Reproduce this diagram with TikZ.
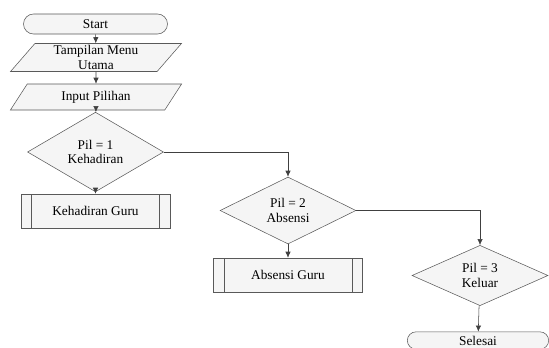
\documentclass[tikz,border=0pt]{standalone}
\usepackage{fontspec}
\setmainfont{Liberation Serif}
\usetikzlibrary{shapes.geometric,shapes.misc,arrows.meta}

\tikzset{
  flow/.style={draw=gray!70!black, fill=gray!8, align=center, inner sep=0pt,
    font=\fontsize{10}{11}\selectfont},
  terminal/.style={flow, rounded rectangle, minimum width=108pt, minimum height=15pt},
  io/.style={flow, trapezium, trapezium left angle=55, trapezium right angle=125,
    trapezium stretches=true, minimum width=129pt, minimum height=21pt},
  decision/.style={flow, diamond, minimum width=102pt, minimum height=42pt},
  process/.style={flow, rectangle, minimum width=112pt, minimum height=25.5pt,
    path picture={
      \draw[gray!70!black] ([xshift=8pt]path picture bounding box.north west)
        -- ([xshift=8pt]path picture bounding box.south west);
      \draw[gray!70!black] ([xshift=-8pt]path picture bounding box.north east)
        -- ([xshift=-8pt]path picture bounding box.south east);
    }},
  line/.style={draw=black!75, -{Latex[length=4.5pt,width=4pt]}}
}

\begin{document}
\begin{tikzpicture}[x=0.75pt, y=-0.75pt]

\clip (0,0) rectangle (549,347);

% menu utama
\path
(95.5,24)  node[terminal] (start) {Start}
(96,57.5)  node[io] (menu) {Tampilan Menu\\Utama}
(96,97)    node[io, minimum height=19.5pt] (input) {Input Pilihan};

% pilihan 1, 2, 3
\path
(95.5,152)  node[decision] (pil1) {Pil = 1\\Kehadiran}
(95.5,211)  node[process] (kehadiran) {Kehadiran Guru}
(288,210.5) node[decision] (pil2) {Pil = 2\\Absensi}
(288,275)   node[process] (absensi) {Absensi Guru}
(480,275.5) node[decision] (pil3) {Pil = 3\\Keluar}
(478,340.5) node[terminal, minimum width=106pt, minimum height=13pt] (selesai) {Selesai};

\draw[line] (start) -- (menu);
\draw[line] (menu) -- (input);
\draw[line] (input) -- (pil1);
\draw[line] (pil1) -- (kehadiran);
\draw[line] (pil1.east) -| (pil2.north);
\draw[line] (pil2) -- (absensi);
\draw[line] (pil2.east) -| (pil3.north);
\draw[line] (pil3) -- (selesai);

\end{tikzpicture}
\end{document}
